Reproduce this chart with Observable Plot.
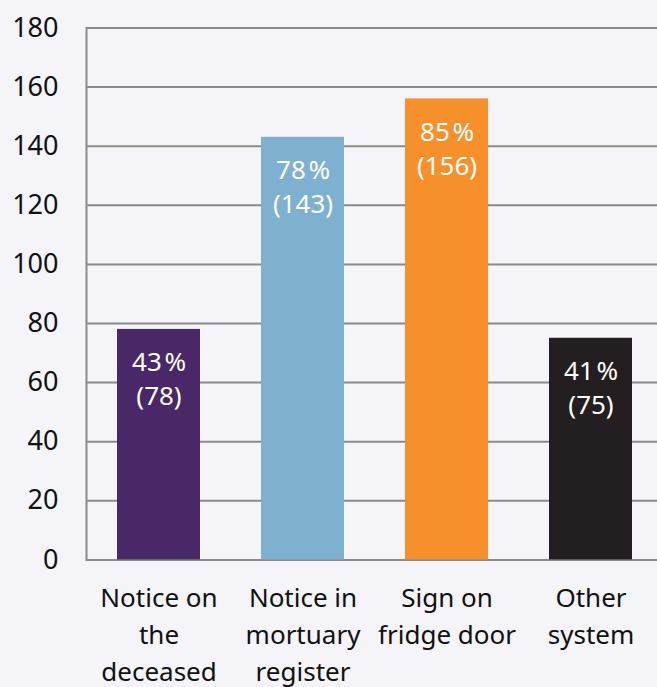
<!DOCTYPE html>
<html>
<head>
<meta charset="utf-8">
<script src="https://cdn.jsdelivr.net/npm/d3@7"></script>
<script src="https://cdn.jsdelivr.net/npm/@observablehq/plot@0.6"></script>
<style>
  html, body { margin: 0; padding: 0; background: #f5f4f8; }
  #chart svg { display: block; }
</style>
</head>
<body>
<div id="chart"></div>
<script>
// Systems used to identify the deceased in the mortuary
const categories = [
  "Notice on\nthe\ndeceased",
  "Notice in\nmortuary\nregister",
  "Sign on\nfridge door",
  "Other\nsystem"
];
const counts = [78, 143, 156, 75];
const percents = [43, 78, 85, 41];
const colors = ["#4a2767", "#7eb1cf", "#f6902b", "#231f20"];
const yTicks = [0, 20, 40, 60, 80, 100, 120, 140, 160, 180];

const rows = categories.map((c, i) => ({
  category: c,
  count: counts[i],
  pct: percents[i],
  color: colors[i]
}));

const font = "'Noto Sans', 'Open Sans', sans-serif";

const chart = Plot.plot({
  width: 657,
  height: 687,
  marginTop: 27.5,
  marginBottom: 127.6,
  marginLeft: 86,
  marginRight: 0,
  style: { background: "#f5f4f8", fontFamily: font, color: "#111" },
  x: { domain: categories, range: [86, 662], paddingInner: 0.424, paddingOuter: 0.212 },
  y: { domain: [0, 180] },
  marks: [
    Plot.gridY(yTicks, { stroke: "#8a8a8a", strokeOpacity: 1, strokeWidth: 2 }),
    Plot.frame({ anchor: "left", stroke: "#8a8a8a", strokeWidth: 2 }),
    Plot.barY(rows, { x: "category", y: "count", fill: "color" }),
    Plot.text(rows, {
      x: "category", y: "count",
      text: d => `${d.pct}\u200a%\n(${d.count})`,
      fill: "white", fontSize: 26, lineHeight: 1.3,
      lineAnchor: "top", dy: 18
    }),
    Plot.axisY({
      ticks: yTicks, tickSize: 0, tickPadding: 28,
      fontSize: 27, label: null, fill: "#111"
    }),
    Plot.axisX({
      tickSize: 0, tickPadding: 21, fontSize: 26, lineHeight: 1.42,
      label: null, fill: "#111"
    })
  ]
});

document.getElementById("chart").appendChild(chart);
</script>
</body>
</html>
